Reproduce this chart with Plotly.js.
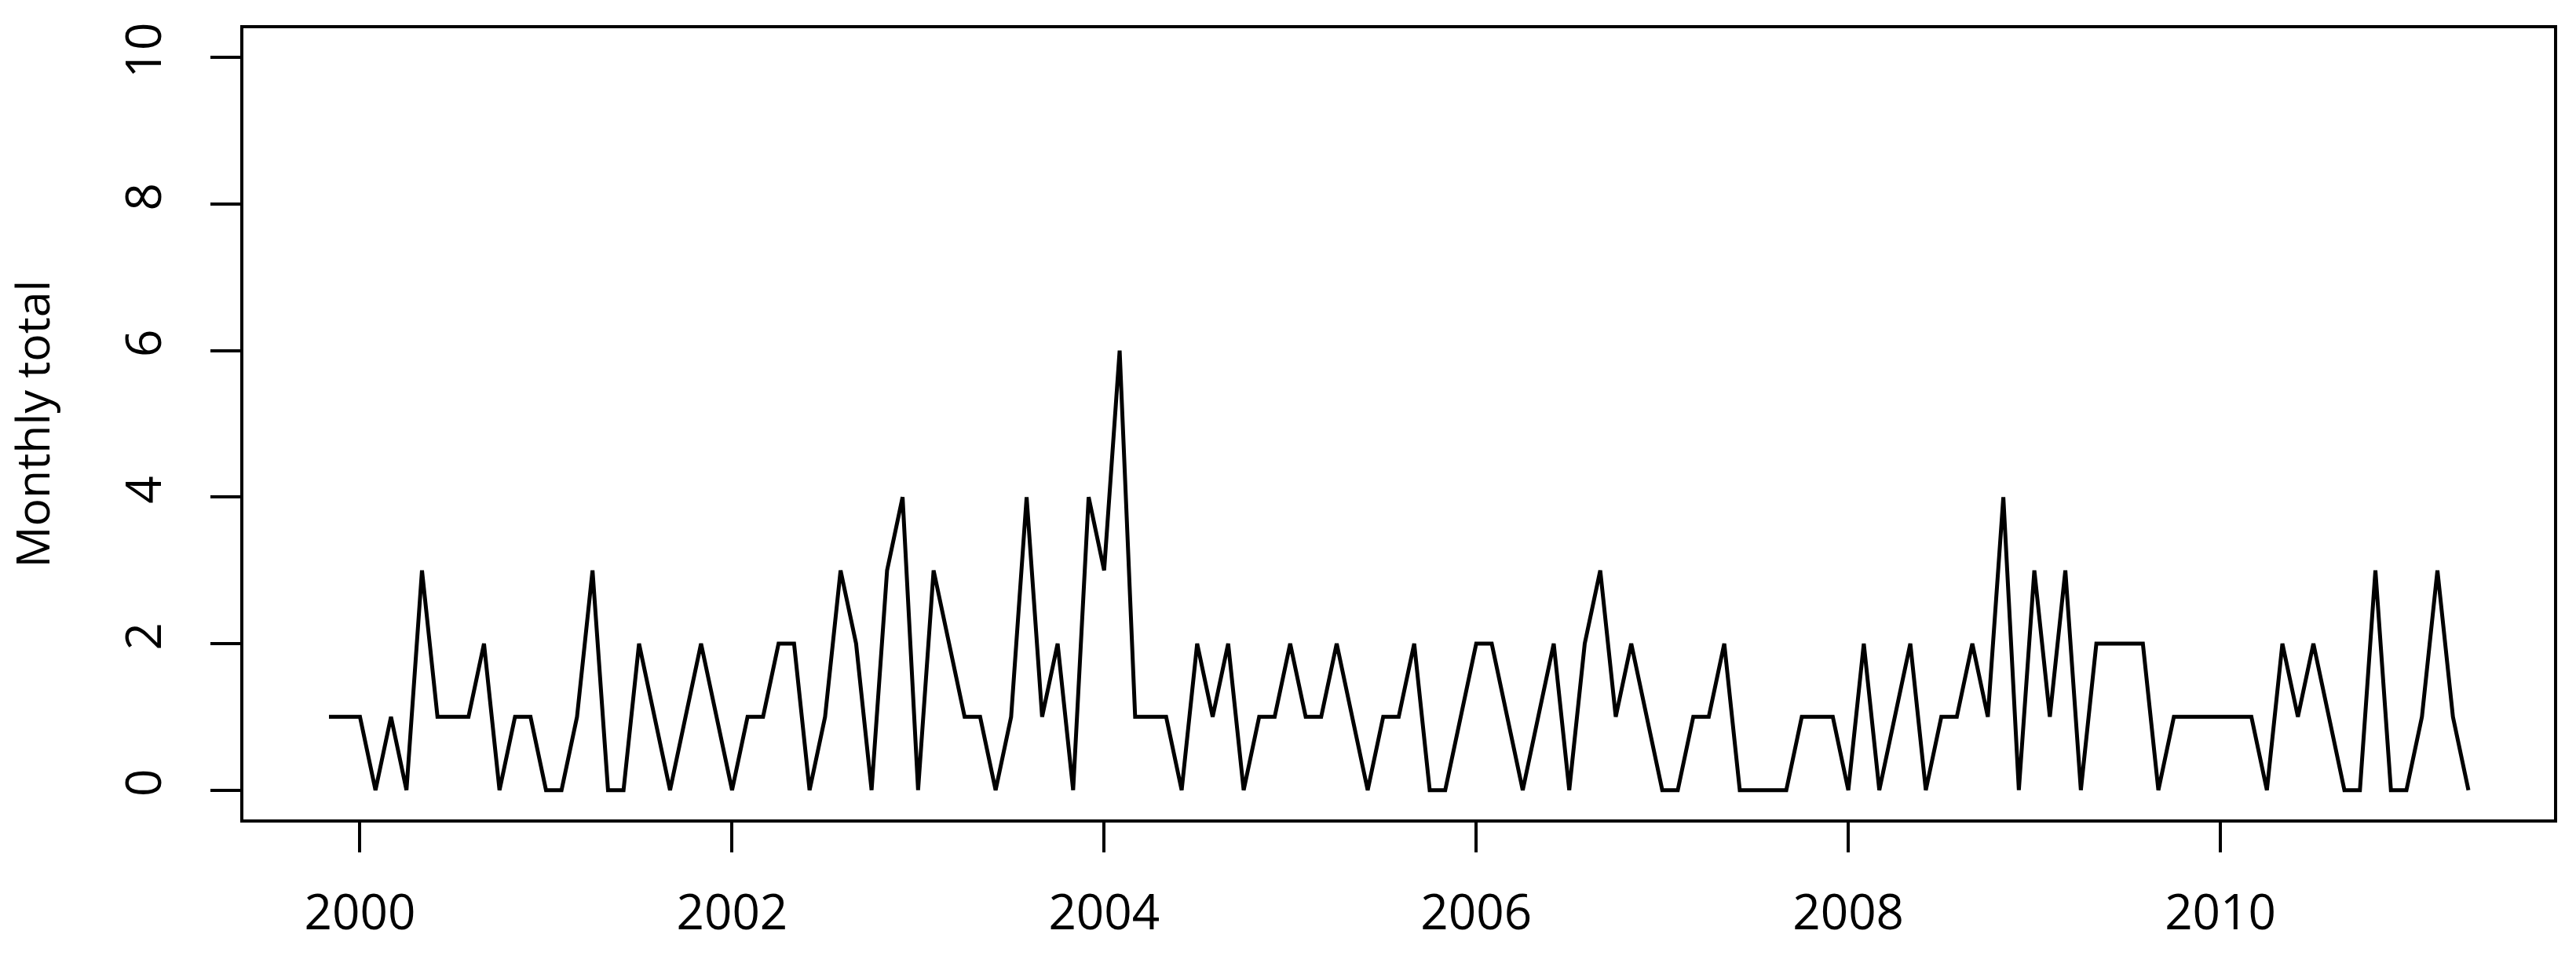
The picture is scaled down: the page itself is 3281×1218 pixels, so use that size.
<!DOCTYPE html>
<html>
<head>
<meta charset="utf-8">
<script src="https://cdn.plot.ly/plotly-3.0.1.min.js"></script>
<style>
  html, body { margin: 0; padding: 0; background: #ffffff; }
  #chart { width: 3281px; height: 1218px; }
</style>
</head>
<body>
<div id="chart"></div>
<script>
// Monthly series: starts November 1999, ends May 2011
var startYear = 1999;
var startMonth = 11;
var monthlyTotal = [
  1,1,1,0,1,0,3,1,1,1,
  2,0,1,1,0,0,1,3,0,0,
  2,1,0,1,2,1,0,1,1,2,
  2,0,1,3,2,0,3,4,0,3,
  2,1,1,0,1,4,1,2,0,4,
  3,6,1,1,1,0,2,1,2,0,
  1,1,2,1,1,2,1,0,1,1,
  2,0,0,1,2,2,1,0,1,2,
  0,2,3,1,2,1,0,0,1,1,
  2,0,0,0,0,1,1,1,0,2,
  0,1,2,0,1,1,2,1,4,0,
  3,1,3,0,2,2,2,2,0,1,
  1,1,1,1,1,0,2,1,2,1,
  0,0,3,0,0,1,3,1,0
];
var xTickVals = [2000, 2002, 2004, 2006, 2008, 2010];
var yTickVals = [0, 2, 4, 6, 8, 10];
var yLimits = [0, 10];
var yTitle = "Monthly total";

// time index (decimal years, like an R ts object)
var timeIndex = [];
for (var i = 0; i < monthlyTotal.length; i++) {
  timeIndex.push(startYear + (startMonth - 1 + i) / 12);
}
var xMin = timeIndex[0], xMax = timeIndex[timeIndex.length - 1];
var xPad = 0.04 * (xMax - xMin);
var yPad = 0.04 * (yLimits[1] - yLimits[0]);

var font = "Open Sans, Noto Sans, DejaVu Sans, sans-serif";

var trace = {
  x: timeIndex,
  y: monthlyTotal,
  type: "scatter",
  mode: "lines",
  line: { color: "#000000", width: 5, shape: "linear" },
  hoverinfo: "x+y"
};

var layout = {
  width: 3281,
  height: 1218,
  paper_bgcolor: "#ffffff",
  plot_bgcolor: "#ffffff",
  showlegend: false,
  margin: { l: 310, r: 28, t: 36, b: 174, pad: 0 },
  font: { family: font, size: 62, color: "#000000" },
  xaxis: {
    range: [xMin - xPad, xMax + xPad],
    tickmode: "array",
    tickvals: xTickVals,
    ticktext: xTickVals.map(String),
    ticks: "outside",
    ticklen: 38,
    tickwidth: 4,
    tickcolor: "#000000",
    ticklabelstandoff: 24,
    showline: true,
    linecolor: "#000000",
    linewidth: 4,
    mirror: true,
    showgrid: false,
    zeroline: false,
    tickfont: { family: font, size: 62, color: "#000000" },
    automargin: false
  },
  yaxis: {
    range: [yLimits[0] - yPad, yLimits[1] + yPad],
    tickmode: "array",
    tickvals: yTickVals,
    ticktext: yTickVals.map(String),
    tickangle: -90,
    ticks: "outside",
    ticklen: 38,
    tickwidth: 4,
    tickcolor: "#000000",
    ticklabelstandoff: 38,
    showline: true,
    linecolor: "#000000",
    linewidth: 4,
    mirror: true,
    showgrid: false,
    zeroline: false,
    tickfont: { family: font, size: 62, color: "#000000" },
    title: { text: yTitle, font: { family: font, size: 59, color: "#000000" }, standoff: 92 },
    automargin: false
  }
};

Plotly.newPlot("chart", [trace], layout, { staticPlot: true, displayModeBar: false });
</script>
</body>
</html>
